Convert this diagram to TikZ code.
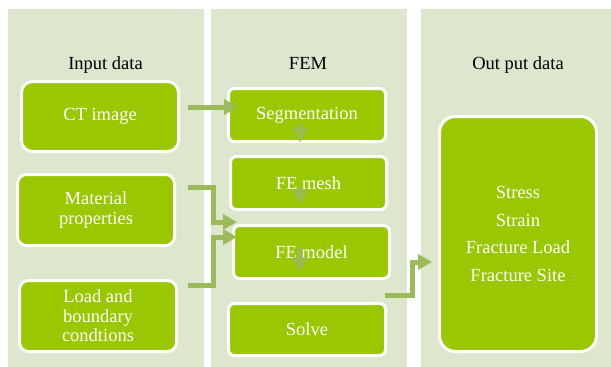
\documentclass[tikz,border=0pt]{standalone}
\usepackage{fontspec}
\setmainfont{Liberation Serif}
\usetikzlibrary{arrows.meta}
\definecolor{panelbg}{RGB}{221,231,206}
\definecolor{boxgreen}{RGB}{153,199,0}
\definecolor{arrowgreen}{RGB}{155,187,89}
\tikzset{
  panel/.style={fill=panelbg, draw=none},
  title/.style={anchor=base, text=black, font=\fontsize{18.5}{20}\selectfont},
  box/.style={fill=boxgreen, draw=white, line width=3pt, rounded corners=9pt,
    text=white, align=center, inner sep=0pt, font=\fontsize{18.5}{19.5}\selectfont},
  bigarr/.style={draw=arrowgreen, line width=5pt,
    -{Triangle[width=15pt,length=14pt]}},
  smallarr/.style={draw=arrowgreen, draw opacity=0.85, line width=6pt,
    -{Triangle[width=14pt,length=15pt]}}
}
\begin{document}
\begin{tikzpicture}[x=1pt, y=-1pt]
\useasboundingbox (0,0) rectangle (611,367);
\fill[white] (0,0) rectangle (611,367);

% column panels
\fill[panel] (8,9) rectangle (204,367);
\fill[panel] (211,9) rectangle (407,367);
\fill[panel] (421,9) rectangle (611,367);

% column titles
\node[title] (tin) at (105.5,69) {Input data};
\node[title] (tfem) at (308,69) {FEM};
\node[title] (tout) at (518,69) {Out put data};

% input boxes
\node[box, minimum width=157pt, minimum height=70pt, rounded corners=11pt] (ct) at (100,116.5) {CT image};
\node[box, minimum width=157pt, minimum height=71pt] (mat) at (96,210) {Material\\properties};
\node[box, minimum width=157pt, minimum height=71pt] (load) at (98,316) {Load and\\boundary\\condtions};

% FEM boxes
\node[box, minimum width=157pt, minimum height=53pt, rounded corners=6pt] (seg) at (307,115) {Segmentation};
\node[box, minimum width=156pt, minimum height=53pt, rounded corners=6pt] (mesh) at (308.5,183) {FE mesh};
\node[box, minimum width=156pt, minimum height=53pt, rounded corners=6pt] (model) at (311.5,252) {FE model};
\node[box, minimum width=157pt, minimum height=52pt, rounded corners=6pt] (solve) at (307,329.5) {Solve};

% output box
\node[box, minimum width=157pt, minimum height=235pt, rounded corners=16pt,
      font=\fontsize{18.5}{27.5}\selectfont] (out) at (518,234)
      {Stress\\Strain\\Fracture Load\\Fracture Site};

% connectors between the columns
\draw[bigarr] ([xshift=8pt,yshift=9.5pt]ct.east) -- ([xshift=11pt,yshift=8pt]seg.west);
\draw[bigarr] ([xshift=12pt,yshift=22.5pt]mat.east) -- ++(25,0)
  |- ([xshift=5pt,yshift=30pt]model.west);
\draw[bigarr] ([xshift=10pt,yshift=31pt]load.east) -- ++(25,0)
  |- ([xshift=5pt,yshift=15pt]model.west);
\draw[bigarr] ([xshift=-2pt,yshift=34.5pt]solve.east) -- ++(27,0)
  |- ([xshift=-6pt,yshift=-28pt]out.west);

% short step arrows inside the FEM column
\draw[smallarr] ([xshift=-7pt,yshift=19pt]seg.south) -- ([xshift=-7pt]seg.south);
\draw[smallarr] ([xshift=-8.5pt,yshift=24pt]mesh.south) -- ([xshift=-8.5pt,yshift=6pt]mesh.south);
\draw[smallarr] ([xshift=-11.5pt,yshift=32pt]model.south) -- ([xshift=-11.5pt,yshift=8pt]model.south);
\end{tikzpicture}
\end{document}
